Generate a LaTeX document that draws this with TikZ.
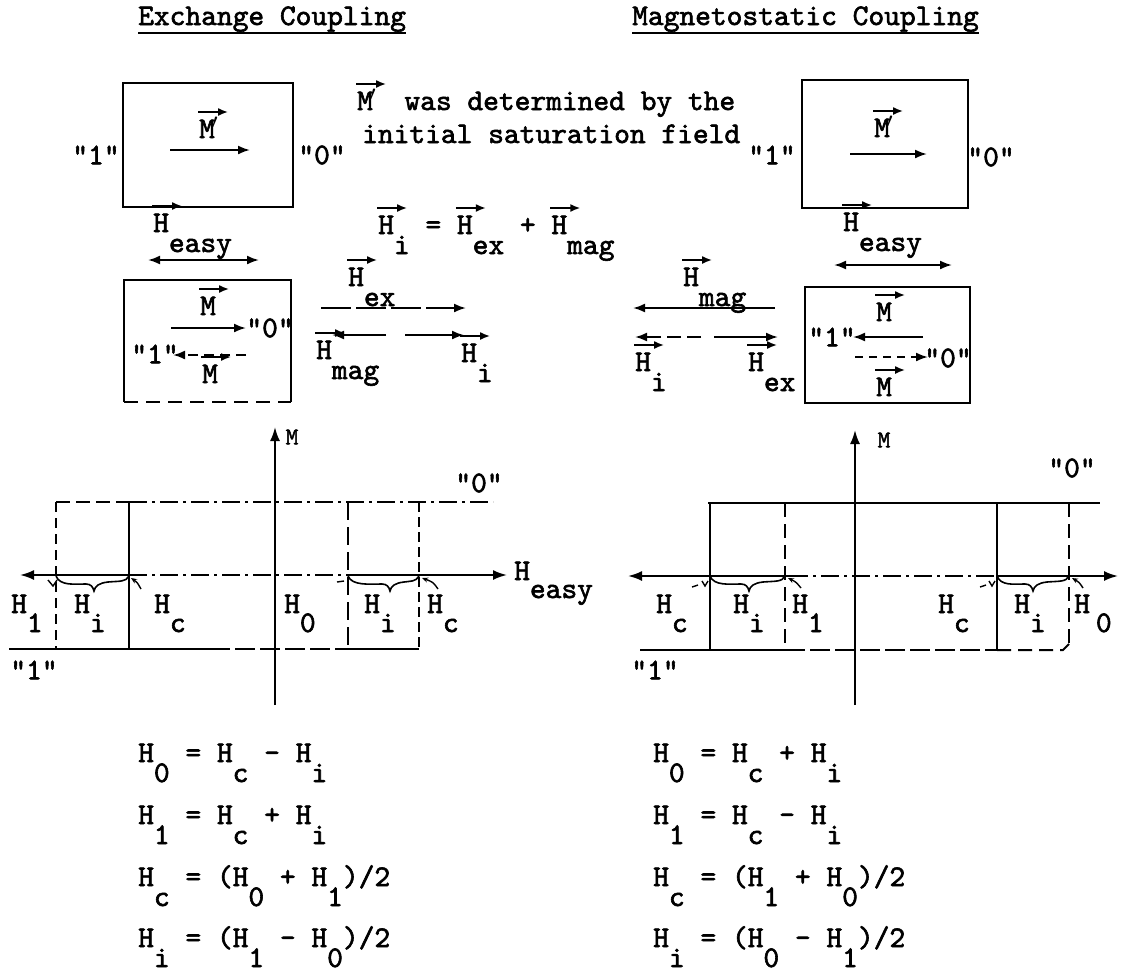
\documentclass[tikz,border=0pt]{standalone}
\usepackage{fontspec}
\setmonofont{lmmono10-regular.otf}[FakeBold=2]
\usetikzlibrary{arrows.meta}
\newcommand\tyf{\fontsize{30}{33}\selectfont\ttfamily}
\newcommand\lo[1]{\raisebox{-20pt}{#1}}
\newcommand\lp[1]{\raisebox{-19pt}{#1}}
\newcommand\varr{\tikz[baseline=0pt,x=1pt,y=1pt]\draw[line width=1.8pt,-{Latex[length=10pt,width=8pt]}] (0,0) -- (30,0);}
\newcommand\vH[1]{\makebox[0pt][l]{\hspace{-2pt}\raisebox{26pt}{\varr}}#1}
\newcommand\prm{\makebox[0.525em][l]{\hspace{-3pt}$'$}}
\newcommand\qt[1]{"#1"}
\newcommand\brc[3]{%
 \draw[line width=1.6pt] (#1,576) .. controls (#1+4,586) and (#2-19,584) .. (#2-7,584)
   .. controls (#2-2,584) and (#2,587) .. (#2+1,591)
   .. controls (#2+2,586) and (#2+6,583) .. (#2+15,582)
   .. controls (#3-9,581) and (#3-3,582) .. (#3,576);}
\tikzset{
 lbl/.style={font=\tyf, inner sep=0pt, anchor=base west},
 ctr/.style={font=\tyf, inner sep=0pt},
 box/.style={line width=2.4pt},
 arr/.style={line width=2pt, -{Latex[length=12pt,width=9pt]}},
 dbl/.style={line width=2pt, {Latex[length=12pt,width=9pt]}-{Latex[length=12pt,width=9pt]}},
 axisarr/.style={line width=2pt, -{Latex[length=14pt,width=10pt]}},
 pl/.style={line width=2pt},
 dd/.style={line width=2pt, dash pattern=on 18pt off 5pt on 3pt off 5pt},
 hook/.style={line width=1.4pt, -{Stealth[length=6pt,width=5pt]}},
}
\begin{document}
\begin{tikzpicture}[x=1pt,y=-1pt]
\fill[white] (0,0) rectangle (1121,978);
\useasboundingbox (0,0) rectangle (1121,978);

% titles
\node[lbl] (t1) at (138,25) {Exchange Coupling};
\draw[line width=2pt] ([yshift=-8pt]t1.base west) -- ([yshift=-8pt]t1.base east);
\node[lbl] (t2) at (632,25) {Magnetostatic Coupling};
\draw[line width=2pt] ([yshift=-8pt]t2.base west) -- ([yshift=-8pt]t2.base east);

% top left box
\draw[box] (123,83) rectangle (293,207);
\node[lbl] (m1) at (199,138) {\vH{M}\prm};
\draw[arr] (170,150) -- (250,150);
\node[ctr] (l1a) at (96,155) {\qt{1}};
\node[ctr] (l0a) at (322,155) {\qt{0}};

% note
\node[lbl] (txt1) at (357,110) {\vH{M}\prm\ was determined by the};
\node[lbl] (txt2) at (362,143) {initial saturation field};

% equation
\node[lbl] (eq) at (378,234) {\vH{H}\lo{i} = \vH{H}\lo{ex} + \vH{H}\lo{mag}};

% top right box
\draw[box] (802,80) rectangle (968,208);
\node[lbl] (m2) at (874,137) {\vH{M}\prm};
\draw[arr] (850,154) -- (927,154);
\node[ctr] (l1b) at (772,155) {\qt{1}};
\node[ctr] (l0b) at (991,157) {\qt{0}};

% H easy
\node[lbl] (he1) at (153,232) {\vH{H}\lo{easy}};
\draw[dbl] (148,260) -- (259,260);
\node[lbl] (he2) at (843,231) {\vH{H}\lo{easy}};
\draw[dbl] (834,265) -- (952,265);

% bottom left box
\draw[box] (124,402) -- (124,280) -- (291,280) -- (291,402);
\draw[box, dash pattern=on 14pt off 8pt] (124,402) -- (291,402);
\node[lbl] (m3) at (200,315) {\vH{M}};
\draw[arr] (171,328) -- (246,328);
\node[ctr] (l0c) at (270,328) {\qt{0}};
\node[ctr] (l1c) at (155,354) {\qt{1}};
\draw[arr, dash pattern=on 10pt off 6pt] (246,355) -- (173,355);
\node[lbl] (m4) at (202,383) {\vH{M}};

% left field vectors
\node[lbl] (hex1) at (348,286) {\vH{H}\lo{ex}};
\draw[arr, dash pattern=on 30pt off 5pt] (321,308) -- (466,308);
\draw[arr] (386,335) -- (332,335);
\draw[arr] (405,335) -- (464,335);
\node[lbl] (hmag1) at (316,359) {\vH{H}\lo{mag}};
\node[lbl] (hi1) at (461,362) {\vH{H}\lo{i}};

% right field vectors
\node[lbl] (hmag2) at (683,286) {\vH{H}\lo{mag}};
\draw[arr] (775,308) -- (633,308);
\draw[arr, dash pattern=on 14pt off 6pt] (701,337) -- (635,337);
\node[lbl] (hi2) at (635,371) {\vH{H}\lo{i}};
\draw[arr] (714,337) -- (778,337);
\node[lbl] (hex2) at (748,371) {\vH{H}\lo{ex}};

% bottom right box
\draw[box] (805,287) rectangle (970,403);
\node[lbl] (m5) at (876,321) {\vH{M}};
\node[ctr] (l1d) at (832,337) {\qt{1}};
\draw[arr] (923,337) -- (853,337);
\draw[arr, dash pattern=on 8pt off 6pt] (855,357) -- (928,357);
\node[ctr] (l0d) at (948,358) {\qt{0}};
\node[lbl] (m6) at (876,396) {\vH{M}};

% ===== left plot =====
\draw[axisarr] (275,705) -- (275,427);
\node[ctr, font=\fontsize{24}{26}\selectfont\ttfamily] (Ma) at (292,437) {M};
\draw[pl, {Latex[length=14pt,width=10pt]}-] (20,575) -- (129,575);
\draw[dd] (129,575) -- (348,575);
\draw[pl, -{Latex[length=14pt,width=10pt]}] (348,575) -- (507,575);
\node[lbl] (hea) at (514,580) {H\raisebox{-18pt}{easy}};
\draw[pl, dash pattern=on 14pt off 6pt] (56,502) -- (129,502);
\draw[dd] (129,502) -- (493,502);
\node[ctr] (l0e) at (479,483) {\qt{0}};
\draw[pl] (9,649) -- (210,649);
\draw[pl, dash pattern=on 20pt off 5pt] (210,649) -- (348,649);
\draw[pl] (348,649) -- (419,649);
\node[ctr] (l1e) at (34,670) {\qt{1}};
\draw[pl, dash pattern=on 10pt off 6pt] (56,502) -- (56,649);
\draw[pl] (129,502) -- (129,649);
\draw[line width=2.6pt, dash pattern=on 18pt off 7pt] (348,502) -- (348,649);
\draw[pl, dash pattern=on 10pt off 5pt] (419,502) -- (419,649);
\brc{56}{93}{129}
\brc{348}{389}{419}
\draw[hook] (141,589) .. controls (137,582) .. (131,578);
\draw[hook] (438,589) .. controls (433,582) .. (422,578);
\draw[line width=1.4pt] (48,580) -- (53,586) -- (57,580);
\draw[line width=1.4pt] (337,582) -- (344,581);
\node[lbl] (la1) at (11,613) {H\lp{1}};
\node[lbl] (la2) at (74,613) {H\lp{i}};
\node[lbl] (la3) at (154,613) {H\lp{c}};
\node[lbl] (la4) at (284,613) {H\lp{0}};
\node[lbl] (la5) at (364,613) {H\lp{i}};
\node[lbl] (la6) at (427,613) {H\lp{c}};

% ===== right plot =====
\draw[axisarr] (855,705) -- (855,430);
\node[ctr, font=\fontsize{24}{26}\selectfont\ttfamily] (Mb) at (884,440) {M};
\draw[pl, {Latex[length=14pt,width=10pt]}-] (628,576) -- (790,576);
\draw[dd] (790,576) -- (997,576);
\draw[pl, -{Latex[length=14pt,width=10pt]}] (997,576) -- (1118,576);
\draw[pl] (708,503) -- (1100,503);
\node[ctr] (l0f) at (1072,468) {\qt{0}};
\draw[pl] (640,650) -- (785,650);
\draw[pl, dash pattern=on 20pt off 5pt] (785,650) -- (997,650);
\draw[pl, dash pattern=on 14pt off 7pt] (997,650) -- (1063,650) -- (1069,644);
\node[ctr] (l1f) at (655,670) {\qt{1}};
\draw[pl] (710,503) -- (710,650);
\draw[pl, dash pattern=on 14pt off 7pt] (785,503) -- (785,650);
\draw[pl] (997,503) -- (997,650);
\draw[pl, dash pattern=on 14pt off 7pt] (1069,503) -- (1069,644);
\brc{710}{748}{785}
\brc{997}{1032}{1069}
\draw[hook] (801,588) .. controls (796,582) .. (788,578);
\draw[hook] (1083,588) .. controls (1079,582) .. (1072,578);
\draw[line width=1.4pt] (692,587) -- (698,585);
\draw[line width=1.4pt] (702,581) -- (705,586) -- (708,581);
\draw[line width=1.4pt] (980,587) -- (986,585);
\draw[line width=1.4pt] (989,581) -- (992,586) -- (995,581);
\node[lbl] (lb1) at (656,613) {H\lp{c}};
\node[lbl] (lb2) at (733,613) {H\lp{i}};
\node[lbl] (lb3) at (792,613) {H\lp{1}};
\node[lbl] (lb4) at (938,613) {H\lp{c}};
\node[lbl] (lb5) at (1014,613) {H\lp{i}};
\node[lbl] (lb6) at (1074,613) {H\hspace{6pt}\lp{0}};

% ===== equations =====
\node[lbl] (e1) at (138,762) {H\lo{0} = H\lo{c} - H\lo{i}};
\node[lbl] (e2) at (138,824) {H\lo{1} = H\lo{c} + H\lo{i}};
\node[lbl] (e3) at (138,886) {H\lo{c} = (H\lo{0} + H\lo{1})/2};
\node[lbl] (e4) at (138,947) {H\lo{i} = (H\lo{1} - H\lo{0})/2};
\node[lbl] (f1) at (653,762) {H\lo{0} = H\lo{c} + H\lo{i}};
\node[lbl] (f2) at (653,824) {H\lo{1} = H\lo{c} - H\lo{i}};
\node[lbl] (f3) at (653,886) {H\lo{c} = (H\lo{1} + H\lo{0})/2};
\node[lbl] (f4) at (653,947) {H\lo{i} = (H\lo{0} - H\lo{1})/2};
\end{tikzpicture}
\end{document}
